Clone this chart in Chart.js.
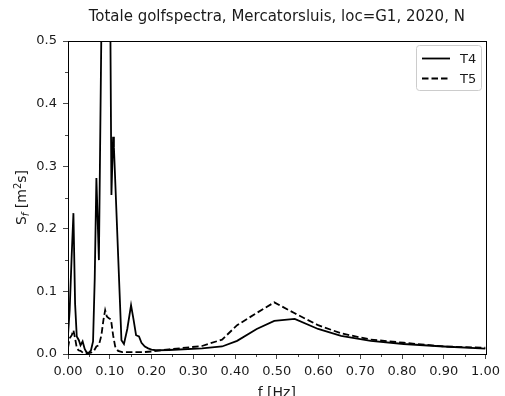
<!DOCTYPE html>
<html>
<head>
<meta charset="utf-8">
<script src="https://cdn.jsdelivr.net/npm/chart.js@4.4.1/dist/chart.umd.min.js"></script>
<style>
  html, body { margin: 0; padding: 0; background: #ffffff; }
  #wrap { width: 505px; height: 396px; position: relative; }
</style>
</head>
<body>
<div id="wrap"><canvas id="c"></canvas></div>
<script>
// Spectral density S_f [m^2 s] against frequency f [Hz]
const freqT4 = [0.000, 0.004, 0.009, 0.013, 0.017, 0.021, 0.026, 0.030, 0.035, 0.040,
  0.045, 0.050, 0.055, 0.060, 0.064, 0.068, 0.074, 0.080, 0.086, 0.096,
  0.104, 0.108, 0.110, 0.128, 0.134, 0.142, 0.151, 0.157, 0.163, 0.170,
  0.176, 0.184, 0.192, 0.200, 0.210, 0.242, 0.321, 0.369, 0.405, 0.452,
  0.494, 0.543, 0.599, 0.654, 0.725, 0.804, 0.900, 1.000];
const sfT4 = [0.030, 0.070, 0.160, 0.225, 0.080, 0.028, 0.022, 0.014, 0.020, 0.008,
  0.002, 0.002, 0.006, 0.020, 0.120, 0.281, 0.150, 0.520, 1.000, 1.100,
  0.254, 0.347, 0.330, 0.022, 0.016, 0.040, 0.078, 0.055, 0.030, 0.028,
  0.018, 0.012, 0.009, 0.007, 0.006, 0.0064, 0.009, 0.012, 0.021, 0.040,
  0.053, 0.056, 0.040, 0.029, 0.021, 0.016, 0.012, 0.0085];

const freqT5 = [0.000, 0.004, 0.009, 0.013, 0.017, 0.021, 0.025, 0.030, 0.036, 0.045,
  0.055, 0.062, 0.068, 0.074, 0.080, 0.085, 0.089, 0.093, 0.098, 0.103,
  0.108, 0.113, 0.120, 0.130, 0.150, 0.180, 0.200, 0.242, 0.321, 0.369,
  0.405, 0.448, 0.494, 0.543, 0.599, 0.654, 0.725, 0.804, 0.900, 1.000];
const sfT5 = [0.010, 0.025, 0.030, 0.038, 0.025, 0.010, 0.006, 0.005, 0.002, 0.001,
  0.002, 0.005, 0.012, 0.014, 0.030, 0.055, 0.070, 0.060, 0.057, 0.055,
  0.030, 0.012, 0.005, 0.003, 0.003, 0.003, 0.004, 0.0074, 0.0128, 0.023,
  0.046, 0.064, 0.0825, 0.065, 0.046, 0.033, 0.023, 0.018, 0.012, 0.010];

const seriesNames = ['T4', 'T5'];
const xTicks = [0, 0.1, 0.2, 0.3, 0.4, 0.5, 0.6, 0.7, 0.8, 0.9, 1.0];
const yTicks = [0, 0.1, 0.2, 0.3, 0.4, 0.5];

const titleText = 'Totale golfspectra, Mercatorsluis, loc=G1, 2020, N';
const FONT = '"DejaVu Sans", "Liberation Sans", sans-serif';
const INK = '#1a1a1a';
const SIZE = 13;

const toPoints = (xs, ys) => xs.map((x, i) => ({ x: x, y: ys[i] }));

// Title, axis labels, frame, minor ticks and the legend box
const decorations = {
  id: 'decorations',
  afterDraw(chart) {
    const ctx = chart.ctx;
    const a = chart.chartArea;
    const xs = chart.scales.x, ys = chart.scales.y;
    ctx.save();

    // minor ticks
    ctx.strokeStyle = INK;
    ctx.lineWidth = 0.8;
    ctx.beginPath();
    for (let i = 0; i < xTicks.length - 1; i++) {
      const px = Math.round(xs.getPixelForValue(xTicks[i] + 0.05)) + 0.5;
      ctx.moveTo(px, a.bottom); ctx.lineTo(px, a.bottom + 3);
    }
    for (let i = 0; i < yTicks.length - 1; i++) {
      const py = Math.round(ys.getPixelForValue(yTicks[i] + 0.05)) + 0.5;
      ctx.moveTo(a.left, py); ctx.lineTo(a.left - 3, py);
    }
    ctx.stroke();

    // frame
    ctx.lineWidth = 1;
    ctx.strokeStyle = '#000';
    ctx.strokeRect(Math.round(a.left) + 0.5, Math.round(a.top) + 0.5,
      Math.round(a.right - a.left), Math.round(a.bottom - a.top));

    // title
    ctx.fillStyle = INK;
    ctx.font = '15px ' + FONT;
    ctx.textAlign = 'center';
    ctx.textBaseline = 'alphabetic';
    ctx.fillText(titleText, (a.left + a.right) / 2, 21);

    // x axis label
    ctx.font = '14px ' + FONT;
    ctx.fillText('f [Hz]', (a.left + a.right) / 2, 397);

    // y axis label: S_f [m^2 s]
    ctx.save();
    ctx.translate(26, (a.top + a.bottom) / 2);
    ctx.rotate(-Math.PI / 2);
    const big = '14px ' + FONT;
    const small = 'italic 10px ' + FONT;
    const sup = '10px ' + FONT;
    const parts = [
      { t: 'S', f: big, dy: 0 },
      { t: 'f', f: small, dy: 3 },
      { t: ' [m', f: big, dy: 0 },
      { t: '2', f: sup, dy: -5.5 },
      { t: 's]', f: big, dy: 0 }
    ];
    let total = 0;
    parts.forEach(p => { ctx.font = p.f; p.w = ctx.measureText(p.t).width; total += p.w; });
    let cx = -total / 2;
    ctx.textAlign = 'left';
    ctx.textBaseline = 'alphabetic';
    parts.forEach(p => { ctx.font = p.f; ctx.fillText(p.t, cx, p.dy); cx += p.w; });
    ctx.restore();

    // legend
    const lx = 416.5, ly = 45.5, lw = 65, lh = 45, r = 3;
    ctx.beginPath();
    ctx.moveTo(lx + r, ly);
    ctx.arcTo(lx + lw, ly, lx + lw, ly + lh, r);
    ctx.arcTo(lx + lw, ly + lh, lx, ly + lh, r);
    ctx.arcTo(lx, ly + lh, lx, ly, r);
    ctx.arcTo(lx, ly, lx + lw, ly, r);
    ctx.closePath();
    ctx.fillStyle = 'rgba(255,255,255,0.8)';
    ctx.fill();
    ctx.strokeStyle = '#cccccc';
    ctx.lineWidth = 1;
    ctx.stroke();

    chart.data.datasets.forEach((ds, i) => {
      const yy = 58.5 + i * 20;
      ctx.beginPath();
      ctx.setLineDash(ds.borderDash || []);
      ctx.strokeStyle = ds.borderColor;
      ctx.lineWidth = ds.borderWidth;
      ctx.moveTo(422, yy); ctx.lineTo(450, yy);
      ctx.stroke();
      ctx.setLineDash([]);
      ctx.fillStyle = INK;
      ctx.font = SIZE + 'px ' + FONT;
      ctx.textAlign = 'left';
      ctx.textBaseline = 'middle';
      ctx.fillText(ds.label, 460, yy + 1);
    });

    ctx.restore();
  }
};

new Chart(document.getElementById('c'), {
  type: 'line',
  data: {
    datasets: [
      {
        label: seriesNames[0],
        data: toPoints(freqT4, sfT4),
        borderColor: '#000000',
        borderWidth: 1.8,
        pointRadius: 0,
        tension: 0,
        fill: false
      },
      {
        label: seriesNames[1],
        data: toPoints(freqT5, sfT5),
        borderColor: '#000000',
        borderWidth: 1.8,
        borderDash: [6.5, 3],
        pointRadius: 0,
        tension: 0,
        fill: false
      }
    ]
  },
  options: {
    responsive: true,
    maintainAspectRatio: false,
    animation: false,
    events: [],
    layout: { padding: { top: 41, right: 16, left: 0, bottom: 0 } },
    plugins: {
      legend: { display: false },
      title: { display: false },
      tooltip: { enabled: false }
    },
    scales: {
      x: {
        type: 'linear',
        min: 0,
        max: 1,
        afterFit: s => { s.height = 42; },
        afterBuildTicks: s => { s.ticks = xTicks.map(v => ({ value: v })); },
        grid: { drawOnChartArea: false, drawTicks: true, tickLength: 5, tickColor: INK, tickWidth: 0.8 },
        border: { display: false },
        ticks: {
          color: INK,
          font: { family: FONT, size: SIZE },
          padding: 5,
          maxRotation: 0,
          autoSkip: false,
          callback: v => Number(v).toFixed(2)
        }
      },
      y: {
        type: 'linear',
        min: 0,
        max: 0.5,
        afterFit: s => { s.width = 68; },
        afterBuildTicks: s => { s.ticks = yTicks.map(v => ({ value: v })); },
        grid: { drawOnChartArea: false, drawTicks: true, tickLength: 5, tickColor: INK, tickWidth: 0.8 },
        border: { display: false },
        ticks: {
          color: INK,
          font: { family: FONT, size: SIZE },
          padding: 6,
          autoSkip: false,
          callback: v => Number(v).toFixed(1)
        }
      }
    }
  },
  plugins: [decorations]
});
</script>
</body>
</html>
